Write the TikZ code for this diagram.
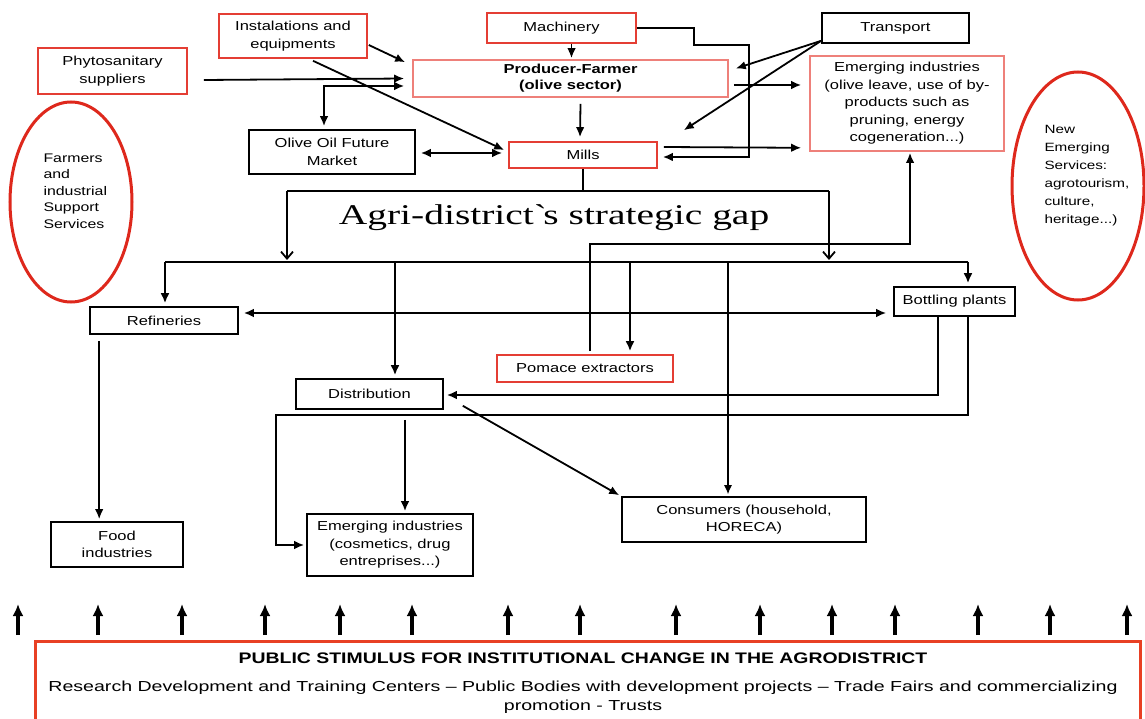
\documentclass[tikz,border=0pt]{standalone}
\usepackage{fontspec}
\setmainfont{Liberation Sans}[FakeStretch=1.27]
\newfontfamily\bodyfont{Liberation Sans}[FakeStretch=1.35]
\newfontfamily\gapfont{Liberation Serif}[FakeStretch=1.38]
\usetikzlibrary{arrows.meta,calc,shapes.geometric}
\definecolor{rbox}{RGB}{228,62,52}
\definecolor{pbox}{RGB}{238,128,122}
\definecolor{rell}{RGB}{222,40,28}
\definecolor{rbot}{RGB}{232,64,36}
\tikzset{
  box/.style={draw, line width=1.6pt, inner sep=0pt, align=center, font=\fontsize{13}{17.5}\selectfont},
  bbox/.style={box, draw=black},
  redbox/.style={box, draw=rbox},
  pinkbox/.style={box, draw=pbox},
  ell/.style={draw=rell, line width=3pt, ellipse, inner sep=0pt},
  conn/.style={line width=1.8pt},
  thinconn/.style={line width=1.2pt, -{Latex[length=9pt,width=8pt]}},
  arr/.style={conn, -{Latex[length=10pt,width=8.5pt]}},
  arrb/.style={conn, {Latex[length=10pt,width=8.5pt]}-{Latex[length=10pt,width=8.5pt]}},
  arrthick/.style={line width=2.3pt, -{Latex[length=10pt,width=9pt]}},
  openarr/.style={conn, -{Straight Barb[length=7pt,width=12pt]}},
  uparr/.style={line width=3.2pt, -{Latex[length=12pt,width=11pt]}},
}
\begin{document}
\begin{tikzpicture}[x=1pt,y=-1pt]
\useasboundingbox (0,0) rectangle (1145,719);
\fill[white] (0,0) rectangle (1145,719);

% boxes
\node[redbox, minimum width=148pt, minimum height=44pt] (inst) at (293,36) {Instalations and\\equipments};
\node[redbox, minimum width=149pt, minimum height=30pt] (mach) at (561.5,28) {Machinery};
\node[bbox, minimum width=147pt, minimum height=30pt] (trans) at (895.5,28) {Transport};
\node[redbox, minimum width=149pt, minimum height=46pt] (phyto) at (112.5,71) {Phytosanitary\\suppliers};
\node[pinkbox, minimum width=315pt, minimum height=37pt, font=\bfseries\fontsize{13}{16}\selectfont] (pf) at (570.5,78.5) {Producer-Farmer\\(olive sector)};
\node[pinkbox, minimum width=194pt, minimum height=95pt] (emtop) at (907,103.5) {Emerging industries\\(olive leave, use of by-\\products such as\\pruning, energy\\cogeneration...)};
\node[bbox, minimum width=166pt, minimum height=44pt] (olive) at (332,152) {Olive Oil Future\\Market};
\node[redbox, minimum width=148pt, minimum height=26pt] (mills) at (583,155) {Mills};
\node[bbox, minimum width=148pt, minimum height=27pt] (refin) at (164,320.5) {Refineries};
\node[bbox, minimum width=121pt, minimum height=29pt] (bott) at (954.5,301.5) {Bottling plants};
\node[redbox, minimum width=176pt, minimum height=27pt] (pomace) at (585,368.5) {Pomace extractors};
\node[bbox, minimum width=147pt, minimum height=30pt] (distr) at (369.5,394) {Distribution};
\node[bbox, minimum width=132pt, minimum height=45pt] (food) at (117,544.5) {Food\\industries};
\node[bbox, minimum width=166pt, minimum height=62pt] (emcos) at (390,545) {Emerging industries\\(cosmetics, drug\\entreprises...)};
\node[bbox, minimum width=244pt, minimum height=45pt] (cons) at (744,519.5) {Consumers (household,\\HORECA)};

% ellipses
\node[ell, minimum width=122pt, minimum height=200pt] (lell) at (71,202) {};
\node[font=\fontsize{12.5}{16.5}\selectfont, align=left, anchor=west] (ltxt) at (40,191) {Farmers\\and\\industrial\\Support\\Services};
\node[ell, minimum width=132pt, minimum height=228pt] (rell) at (1078,186) {};
\node[font=\fontsize{12}{18}\selectfont, align=left, anchor=west] (rtxt) at (1041,176) {New\\Emerging\\Services:\\agrotourism,\\culture,\\heritage...)};

% gap title
\node[font=\gapfont\fontsize{28.6}{30}\selectfont] (gap) at (554,218) {Agri-district\textasciigrave s strategic gap};

% public stimulus box
\node[draw=rbot, line width=3pt, minimum width=1105pt, minimum height=90pt, inner sep=0pt] (pub) at (587.5,686) {};
\node[font=\bfseries\fontsize{15.3}{18}\selectfont] (ptitle) at (583,658) {PUBLIC STIMULUS FOR INSTITUTIONAL CHANGE IN THE AGRODISTRICT};
\node[font=\bodyfont\fontsize{14.5}{19}\selectfont, align=center] (pbody) at (583,697) {Research Development and Training Centers – Public Bodies with development projects – Trade Fairs and commercializing\\promotion - Trusts};
\foreach \x in {18,98,182,265,340,412,508,580,676,760,832,895,978,1050,1127}
  \draw[uparr] (\x,635) -- (\x,604);

% top connectors
\draw[arr] ($(inst.east)+(1,9)$) -- ($(pf.north west)+(-7,3)$);
\draw[arr] ($(inst.south)+(20,2)$) -- ($(mills.west)+(-4,-5)$);
\draw[arr] ($(phyto.east)+(16,9)$) -- ($(pf.west)+(-8,0)$);
\draw[arrb] ($(pf.west)+(-8,7.5)$) -| ($(olive.north)+(-8,-3)$);
\draw[arr] ($(mach.south)+(10,0)$) -- ($(pf.north)+(1,-1)$);
\draw[arr] ($(pf.south)+(10,6)$) -- ($(mills.north)+(-3,-4)$);
\draw[arrb] ($(olive.east)+(5,1)$) -- ($(mills.west)+(-6,-2)$);
\draw[arr] (mach.east) -- ++(57,0) -- ++(0,17) -- ++(55,0) |- ($(mills.east)+(5,2)$);
\draw[arr] ($(trans.south west)+(0,-3)$) -- ($(pf.east)+(7,-10)$);
\draw[arr] ($(trans.south west)+(0,-3)$) -- ($(mills.north east)+(26,-11)$);
\draw[arr] ($(pf.east)+(5,6.5)$) -- ($(emtop.west)+(-8,-18.5)$);
\draw[arr] ($(mills.east)+(6,-8)$) -- ($(emtop.south west)+(-8,-4)$);

% gap tree
\coordinate (gL) at (287,191);
\coordinate (gR) at (829,191);
\coordinate (dL) at (165,262);
\coordinate (dR) at (968,262);
\draw[conn] (mills.south) -- (mills.south |- gL);
\draw[conn] (gL) -- (gR);
\draw[openarr] (gL) -- ($(gL |- dL)+(0,-2)$);
\draw[openarr] (gR) -- ($(gR |- dL)+(0,-2)$);

% distribution tree
\draw[line width=2.3pt] (dL) -- (dR);
\path ($(refin.north)+(1,-3)$) coordinate (rtop);
\path ($(distr.north)+(25.5,-3)$) coordinate (dtop);
\path ($(pomace.north)+(45,-3)$) coordinate (ptop);
\path ($(bott.north)+(13.5,-3)$) coordinate (btop);
\path ($(cons.north)+(-16,-2)$) coordinate (ctop);
\draw[arrthick] (rtop |- dL) -- (rtop);
\draw[arrthick] (dtop |- dL) -- (dtop);
\draw[arrthick] (ptop |- dL) -- (ptop);
\draw[arrthick] (btop |- dL) -- (btop);
\draw[thinconn] (ctop |- dL) -- (ctop);

\draw[arrb] ($(refin.east)+(5,-7.5)$) -- ($(bott.west)+(-7,11.5)$);
\draw[conn, -{Latex[length=10pt,width=8.5pt]}] ($(pomace.north)+(5,-3)$) -- ++(0,-107) -| ($(emtop.south)+(3,1)$);

% lower connectors
\draw[arr] ($(bott.south)+(-16.5,0)$) |- ($(distr.east)+(3,1)$);
\draw[arr] ($(bott.south)+(13.5,0)$) -- ++(0,98) -| ($(emcos.west)+(-30,0)$) -- ($(emcos.west)+(-2,0)$);
\draw[arr] ($(distr.south)+(35.5,10)$) -- ($(emcos.north)+(15,-2)$);
\draw[arr] ($(distr.south east)+(19,-4)$) -- ($(cons.north west)+(-2,-1)$);
\draw[arr] ($(refin.south west)+(10,6)$) -- ($(food.north west)+(49,-2)$);
\end{tikzpicture}
\end{document}
